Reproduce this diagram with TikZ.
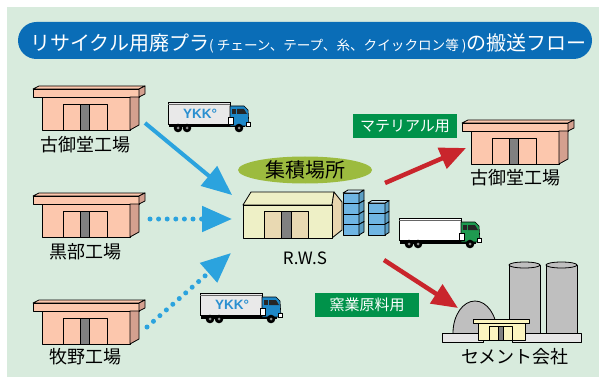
\documentclass[tikz,border=0pt]{standalone}
\usepackage{fontspec}
\setmainfont{Liberation Sans}
\newfontfamily\jp{Noto Sans CJK JP}
\usetikzlibrary{arrows.meta,shapes.geometric}

\definecolor{bgc}{HTML}{D8EBDD}
\definecolor{pillc}{HTML}{0A6DB7}
\definecolor{pinkf}{HTML}{FCC7AD}
\definecolor{pinks}{HTML}{D4A08F}
\definecolor{doorgray}{HTML}{808080}
\definecolor{bluearr}{HTML}{2BA3DE}
\definecolor{redarr}{HTML}{C9252C}
\definecolor{tagc}{HTML}{00924A}
\definecolor{ovalc}{HTML}{9CBB3F}
\definecolor{rwsf}{HTML}{EEF0C6}
\definecolor{rwss}{HTML}{E9D6AF}
\definecolor{rwsd}{HTML}{E9D9B2}
\definecolor{cubef}{HTML}{6FB5E3}
\definecolor{cubes}{HTML}{5C9FC4}
\definecolor{cubet}{HTML}{C4E3F5}
\definecolor{siloc}{HTML}{BFBFBF}
\definecolor{slabc}{HTML}{E6E6E6}
\definecolor{plantc}{HTML}{FCF5C0}
\definecolor{contgray}{HTML}{E9E9E9}
\definecolor{cabblue}{HTML}{1E88C8}
\definecolor{cabgreen}{HTML}{1E9A50}
\definecolor{ykkc}{HTML}{2A8FD0}

\tikzset{
  outl/.style={draw=black,line width=0.8pt,line join=round},
  lbl/.style={font=\jp\fontsize{18}{20}\selectfont,inner sep=0pt},
  tag/.style={fill=tagc,text=white,font=\jp\fontsize{15}{16}\selectfont,
    minimum width=104pt,minimum height=24pt,inner sep=0pt},
  bluesolid/.style={draw=bluearr,line width=4pt,
    -{Triangle[length=30pt,width=25pt]}},
  bluedot/.style={draw=bluearr,line width=5pt,line cap=round,
    dash pattern=on 0pt off 8.6pt,-{Triangle[length=30pt,width=25pt]}},
  redarrow/.style={draw=redarr,line width=4.5pt,
    -{Triangle[length=26pt,width=22pt]}},
  factory/.pic={
    \draw[outl,fill=pinkf] (0,3) -- (6,0) -- (112,0) -- (106,3) -- cycle;
    \draw[outl,fill=pinkf] (0,3) rectangle (106,11);
    \draw[outl,fill=pinks] (106,3) -- (112,0) -- (112,8) -- (106,11) -- cycle;
    \draw[outl,fill=pinkf] (9,11) rectangle (97,44);
    \draw[outl,fill=pinks] (97,11) -- (106,11) -- (106,39) -- (97,44) -- cycle;
    \draw[outl,fill=pinkf] (30,18) rectangle (74,44);
    \draw[outl,fill=doorgray] (47,18) rectangle (56,44);
  },
  pics/truck/.style n args={3}{code={
    \draw[draw=black,line width=0.6pt,fill=#1] (0,0) rectangle (62,22);
    \draw[black!60,line width=0.6pt] (0,2) -- (62,2);
    \fill[black] (1,22) rectangle (77,25.5);
    \draw[draw=black,line width=0.6pt,fill=#2]
      (62,4) -- (76,4) -- (80,8) -- (81,24) -- (62,24) -- cycle;
    \fill[black!85] (69,7) -- (76,7) -- (79,12) -- (69,12) -- cycle;
    \fill[black!85] (64,7) rectangle (67.5,12);
    \draw[fill=white,line width=0.5pt] (60,15) rectangle (65,22);
    \draw[fill=white,line width=0.5pt] (78,20) rectangle (82,24);
    \foreach \wx in {10,19,71}{
      \fill[black] (\wx,26) circle (4.3);
      \fill[black!45] (\wx,26) circle (1.5);
    }
    \node[font=\bfseries\fontsize{13.5}{14}\selectfont,text=ykkc,inner sep=0pt]
      at (32,11.5) {#3};
  }}
}

\begin{document}
\begin{tikzpicture}[x=1pt,y=-1pt]
  \useasboundingbox (0,0) rectangle (599,382);
  % backdrop
  \fill[bgc] (7,7) rectangle (599,377);

  % title bar
  \fill[pillc,rounded corners=18.5pt] (18,22) rectangle (592,59);
  \node[anchor=base west,inner sep=0pt,text=white] (title) at (30,51)
    {\jp\fontsize{20}{21}\selectfont リサイクル用廃プラ%
     \fontsize{13.6}{14}\selectfont ( チェーン、テープ、糸、クイックロン等 )%
     \fontsize{20}{21}\selectfont の搬送フロー};

  % source plants
  \pic at (33,86) {factory};
  \pic at (33,193) {factory};
  \pic at (33,300) {factory};
  \node[lbl] (kogo) at (85,145) {古御堂工場};
  \node[lbl] (kurobe) at (85,252) {黒部工場};
  \node[lbl] (makino) at (85,357) {牧野工場};

  % destination plant
  \pic at (462,120) {factory};
  \node[lbl] (kogo2) at (515,178) {古御堂工場};

  % collection site
  \node[ellipse,fill=ovalc,minimum width=134pt,minimum height=27pt,inner sep=0pt,
    font=\jp\fontsize{20}{22}\selectfont] (site) at (305,170) {集積場所};
  \draw[outl,fill=rwsf] (243,205) -- (251,192) -- (334,192) -- (332,205) -- cycle;
  \draw[outl,fill=rwss] (332,205) -- (334,192) -- (342,202) -- (342,230) -- (332,238) -- cycle;
  \draw[outl,fill=rwsf] (243,205) rectangle (332,238);
  \draw[outl,fill=rwsd] (264,211) rectangle (308,238);
  \draw[outl,fill=doorgray] (281,211) rectangle (291,238);
  \node[font=\jp\fontsize{17}{18}\selectfont,inner sep=0pt] (rws) at (305,258) {R.W.S};

  % stacked containers
  \foreach \cy in {193,203.5,214,224.5}{
    \draw[outl,fill=cubef] (343,\cy) rectangle (359,\cy+10.5);
    \draw[outl,fill=cubes] (359,\cy) -- (364,\cy-3) -- (364,\cy+7.5) -- (359,\cy+10.5) -- cycle;
  }
  \draw[outl,fill=cubet] (343,193) -- (348,190) -- (364,190) -- (359,193) -- cycle;
  \foreach \cy in {203,213.67,224.33}{
    \draw[outl,fill=cubef] (368,\cy) rectangle (385,\cy+10.67);
    \draw[outl,fill=cubes] (385,\cy) -- (389,\cy-2.5) -- (389,\cy+8.17) -- (385,\cy+10.67) -- cycle;
  }
  \draw[outl,fill=cubet] (368,203) -- (372,200.5) -- (389,200.5) -- (385,203) -- cycle;

  % trucks
  \pic at (168,102) {truck={contgray}{cabblue}{YKK°}};
  \pic at (399,218) {truck={white}{cabgreen}{}};
  \pic at (200,293) {truck={contgray}{cabblue}{YKK°}};

  % cement works
  \draw[outl,fill=siloc] (453,333) arc[start angle=180,end angle=360,x radius=22,y radius=32];
  \draw[outl,fill=siloc] (509,265) rectangle (540,333);
  \draw[outl,fill=siloc] (524.5,265) ellipse[x radius=15.5,y radius=3];
  \draw[outl,fill=siloc] (546,265) rectangle (577,333);
  \draw[outl,fill=siloc] (561.5,265) ellipse[x radius=15.5,y radius=3];
  \draw[outl,fill=slabc] (442,333) rectangle (483,342);
  \draw[outl,fill=slabc] (512,333) rectangle (581,342);
  \draw[outl,fill=plantc] (478,323) rectangle (525,340);
  \draw[outl,fill=plantc] (473,319) rectangle (529,323);
  \draw[outl,fill=plantc] (489,326) rectangle (512,340);
  \draw[outl,fill=doorgray] (498,326) rectangle (503,340);
  \node[lbl] (cement) at (515,357) {セメント会社};

  % use tags
  \node[tag] (mat) at (405,126) {マテリアル用};
  \node[tag] (kiln) at (367,304.5) {窯業原料用};

  % transport routes
  \coordinate (a1s) at (145,123);
  \coordinate (a1e) at (232,195);
  \coordinate (a2s) at (150,219);
  \coordinate (a2e) at (232,219);
  \coordinate (a3s) at (147,327);
  \coordinate (a3e) at (231,253);
  \coordinate (r1s) at (385,183);
  \coordinate (r1e) at (466,148);
  \coordinate (r2s) at (384,260);
  \coordinate (r2e) at (458,308);
  \draw[bluesolid] (a1s) -- (a1e);
  \draw[bluedot] (a2s) -- (a2e);
  \draw[bluedot] (a3s) -- (a3e);
  \draw[redarrow] (r1s) -- (r1e);
  \draw[redarrow] (r2s) -- (r2e);
\end{tikzpicture}
\end{document}
